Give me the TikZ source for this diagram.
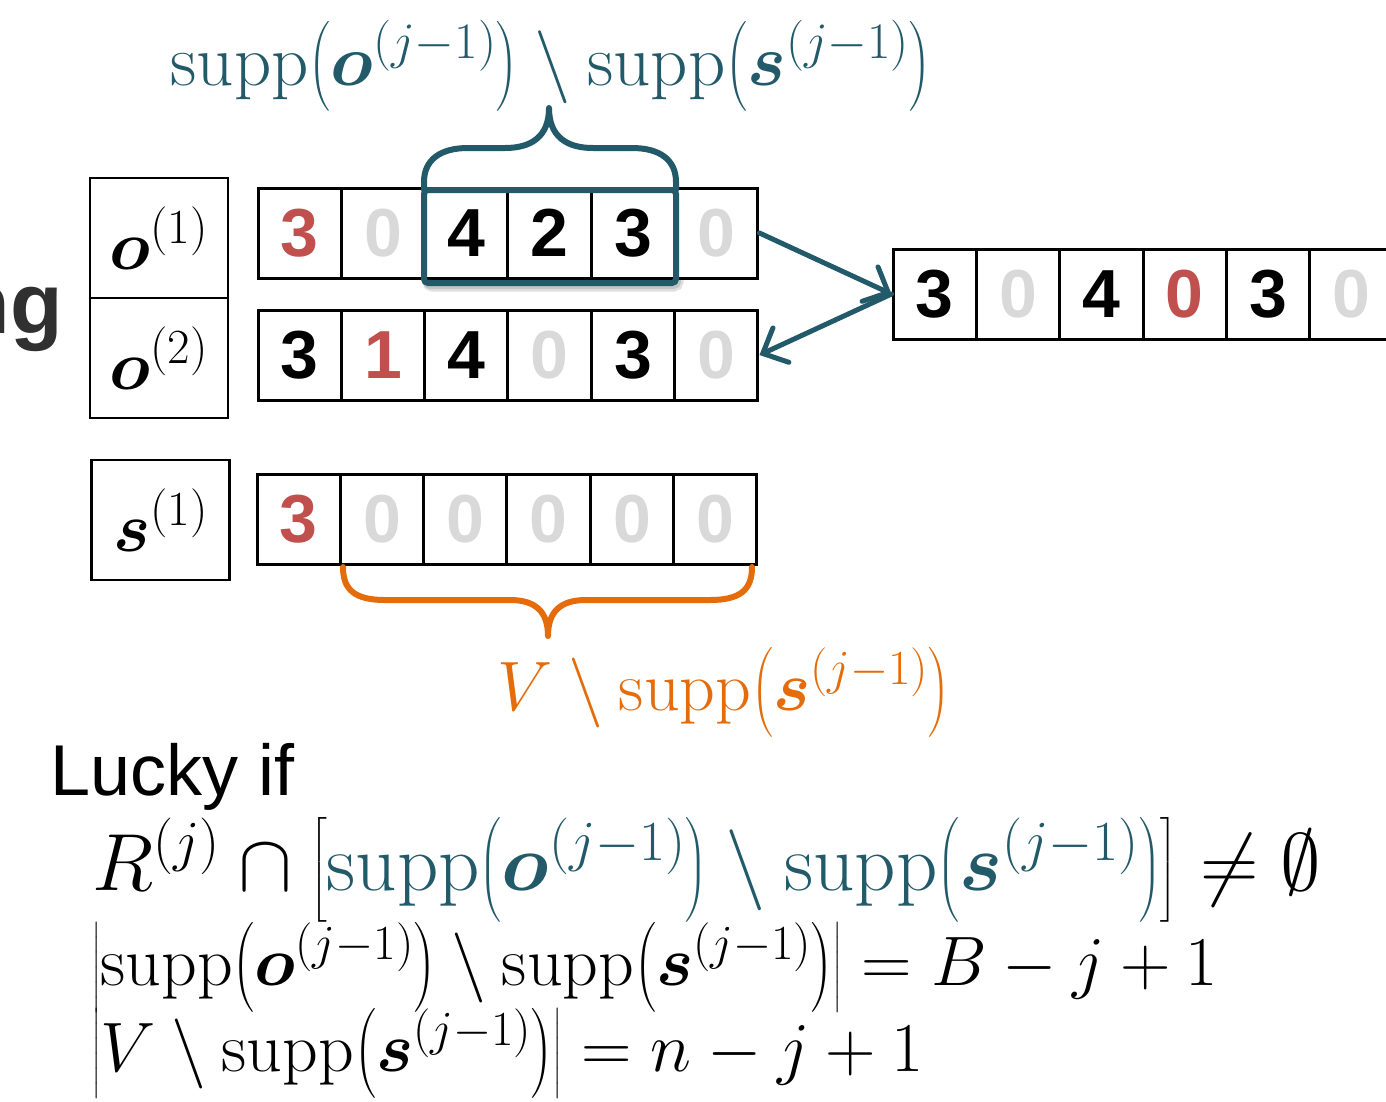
\documentclass[tikz,border=0pt]{standalone}
\usepackage{fix-cm}
\usepackage{amsmath,bm}
\usepackage{fontspec}
\newfontfamily\arialfont{Liberation Sans}
\usetikzlibrary{arrows.meta}
\definecolor{tealc}{HTML}{225A6A}
\definecolor{orangec}{HTML}{E46C0A}
\definecolor{redc}{HTML}{C0504D}
\definecolor{grayc}{HTML}{D9D9D9}
\definecolor{darkc}{HTML}{303030}
\newcommand\cellfont{\arialfont\bfseries\fontsize{68}{68}\selectfont}
\newcommand\mfont{\fontsize{70}{84}\selectfont}
\newcommand\suppo{\mathrm{supp}\bigl(\bm{o}^{(j-1)}\bigr)}
\newcommand\supps{\mathrm{supp}\bigl(\bm{s}^{(j-1)}\bigr)}
\tikzset{
  cell/.style={draw=black, line width=3pt, minimum width=83.33pt, minimum height=90pt, inner sep=0pt, font=\cellfont},
  labbox/.style={draw=black, line width=2.5pt, minimum width=138pt, minimum height=120pt, inner sep=0pt, font=\mfont},
  brace/.style={line width=6pt, line cap=round, line join=round},
  arrowst/.style={draw=tealc, line width=5pt, line cap=round, -{Straight Barb[length=20pt,width=38pt,line cap=round]}},
  mathlab/.style={font=\mfont, inner sep=0pt}
}
\begin{document}
\begin{tikzpicture}[x=1pt,y=-1pt]
\useasboundingbox (0,0) rectangle (1386,1101);
% cut-off word at left
\node[font=\arialfont\bfseries\fontsize{86}{86}\selectfont, text=darkc, anchor=base east, inner sep=0pt] (ng) at (63,333) {ng};
% label boxes
\node[labbox] (lo1) at (159,238) {$\bm{o}^{(1)}$};
\node[labbox] (lo2) at (159,358) {$\bm{o}^{(2)}$};
\node[labbox] (ls1) at (160.5,520) {$\bm{s}^{(1)}$};
% shadow of highlight box
\draw[black, opacity=0.12, line width=9pt, rounded corners=5pt] (427,194) rectangle (679,287);
\draw[black, opacity=0.12, line width=6pt, rounded corners=4pt] (426,193) rectangle (678,286);
% rows
\foreach \v/\c [count=\i] in {3/redc,0/grayc,4/black,2/black,3/black,0/grayc}
  \node[cell, fill=white, text=\c] (a\i) at ({258+83.33*(\i-0.5)},233) {\v};
\foreach \v/\c [count=\i] in {3/black,1/redc,4/black,0/grayc,3/black,0/grayc}
  \node[cell, text=\c] (b\i) at ({258+83.33*(\i-0.5)},355) {\v};
\foreach \v/\c [count=\i] in {3/redc,0/grayc,0/grayc,0/grayc,0/grayc,0/grayc}
  \node[cell, text=\c] (c\i) at ({257+83.33*(\i-0.5)},519.5) {\v};
\foreach \v/\c [count=\i] in {3/black,0/grayc,4/black,0/redc,3/black,0/grayc}
  \node[cell, text=\c] (r\i) at ({893+83.33*(\i-0.5)},294) {\v};
% highlight box
\draw[tealc, line width=6pt, rounded corners=4pt] (424,190) rectangle (676,283);
% teal brace
\draw[tealc, brace] (424,190) -- (424,182) .. controls (424,160) and (440,148) .. (468,148) -- (505,148) .. controls (532,148) and (549,136) .. (549,108) .. controls (549,136) and (566,148) .. (593,148) -- (632,148) .. controls (660,148) and (676,160) .. (676,182) -- (676,190);
% orange brace
\draw[orangec, brace] (343,567) .. controls (343,590) and (355,600) .. (385,600) -- (510,600) .. controls (536,600) and (548,612) .. (548,636) .. controls (548,612) and (560,600) .. (586,600) -- (710,600) .. controls (740,600) and (752,590) .. (752,567);
% arrows
\draw[arrowst] (a6.east) -- (r1.west);
\draw[arrowst] (r1.west) -- (b6.east);
% labels
\node[mathlab, font=\fontsize{73}{88}\selectfont, text=tealc, anchor=base] (toplab) at (551,85) {$\suppo \setminus \supps$};
\node[mathlab, text=orangec, anchor=base] (botlab) at (724,710) {$V \setminus \supps$};
% bottom text
\node[font=\arialfont\fontsize{72}{72}\selectfont, anchor=base west, inner sep=0pt] (lucky) at (50,795) {Lucky if};
\node[mathlab, font=\fontsize{81}{97}\selectfont, anchor=base west] (l1) at (92,890) {$R^{(j)} \cap \bigl[\textcolor{tealc}{\suppo \setminus \supps}\bigr] \neq \emptyset$};
\node[mathlab, anchor=base west] (l2) at (92,985) {$\bigl|\suppo \setminus \supps\bigr| = B - j + 1$};
\node[mathlab, anchor=base west] (l3) at (92,1071) {$\bigl|V \setminus \supps\bigr| = n - j + 1$};
\end{tikzpicture}
\end{document}
